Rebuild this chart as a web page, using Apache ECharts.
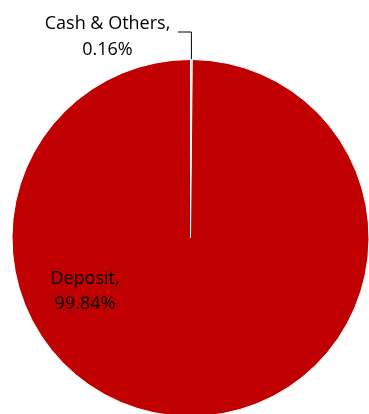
<!DOCTYPE html>
<html>
<head>
<meta charset="utf-8">
<script src="https://cdn.jsdelivr.net/npm/echarts@6/dist/echarts.min.js"></script>
<style>
  html, body { margin: 0; padding: 0; background: #fff; }
  #chart { width: 369px; height: 414px; }
</style>
</head>
<body>
<div id="chart"></div>
<script>
// 数据
const categories = ["Cash & Others", "Deposit"];
const values = [0.16, 99.84];
const colors = ["#bfbfbf", "#c00000"];

const chart = echarts.init(document.getElementById("chart"), null, { renderer: "canvas" });

const cx = 190.5, cy = 238, r = 178.5;

chart.setOption({
  animation: false,
  backgroundColor: "#fff",
  series: [
    {
      type: "pie",
      center: [cx, cy],
      radius: [0, r],
      startAngle: 90,
      clockwise: true,
      avoidLabelOverlap: false,
      itemStyle: { borderColor: "#fff", borderWidth: 1 },
      label: {
        show: true,
        position: "outside",
        color: "#000",
        fontFamily: "Open Sans",
        fontSize: 18,
        lineHeight: 25.5,
        align: "center",
        formatter: function (p) {
          return p.name + ",\n" + p.value.toFixed(2) + "%";
        }
      },
      labelLine: {
        show: true,
        length: 20,
        length2: 10,
        lineStyle: { color: "#000", width: 1 }
      },
      // 标签位置
      labelLayout: function (params) {
        if (params.dataIndex === 0) {
          const p = params.labelLinePoints;
          const x0 = p ? p[0][0] : cx + 1;
          return {
            x: 107.5,
            y: 37,
            align: "center",
            verticalAlign: "middle",
            labelLinePoints: [[x0, cy - r], [x0, 32], [178, 32]]
          };
        }
        return {
          x: 85,
          y: 291.5,
          align: "center",
          verticalAlign: "middle"
        };
      },
      data: categories.map(function (name, i) {
        return {
          name: name,
          value: values[i],
          itemStyle: { color: colors[i] },
          labelLine: { show: i === 0 }
        };
      })
    }
  ]
});
</script>
</body>
</html>
